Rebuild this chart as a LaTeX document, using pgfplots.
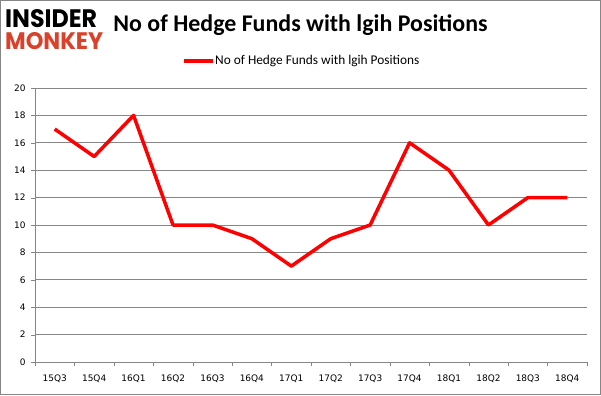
\documentclass[border=0pt]{standalone}
\usepackage{pgfplots}
\pgfplotsset{compat=1.18}
\usepackage{fontspec}
\setmainfont{DejaVu Sans}
\newfontfamily\calibri{Carlito}
\newfontfamily\logofont{Poppins}
\definecolor{logored}{HTML}{D9412A}
\definecolor{gridgray}{HTML}{868686}
\begin{document}
\begin{tikzpicture}[x=1bp,y=1bp]
\draw[gridgray,line width=1bp] (0.5,0.5) rectangle (600.5,394.5);
\node[anchor=south west,inner sep=0] at (5,367) {\resizebox{92bp}{18bp}{\logofont\bfseries INSIDER}};
\node[anchor=south west,inner sep=0] at (5,345) {\resizebox{98bp}{17bp}{\logofont\bfseries\color{logored}MONKEY}};
\node[anchor=center,inner sep=0,font=\calibri\bfseries\fontsize{24}{28}\selectfont] at (300.5,370) {No of Hedge Funds with lgih Positions};
\draw[red,line width=3.5bp] (184,334) -- (213,334);
\node[anchor=west,inner sep=0,font=\calibri\fontsize{13.4}{15}\selectfont] at (215,334) {No of Hedge Funds with lgih Positions};
\begin{axis}[
  at={(35bp,33bp)}, anchor=south west,
  width=552bp, height=274bp, scale only axis,
  xmin=-0.5, xmax=13.5, ymin=0, ymax=20,
  ytick={0,2,...,20},
  xtick={0,...,13},
  xticklabels={15Q3,15Q4,16Q1,16Q2,16Q3,16Q4,17Q1,17Q2,17Q3,17Q4,18Q1,18Q2,18Q3,18Q4},
  minor xtick={-0.5,0.5,...,13.5},
  major x tick style={draw=none},
  minor x tick style={gridgray},
  y tick style={gridgray},
  tick align=outside,
  tickwidth=4bp,
  minor tick length=4bp,
  axis x line*=bottom, axis y line*=left,
  axis line style={gridgray,-},
  ymajorgrids, grid style={gridgray,line width=0.8bp},
  tick label style={font=\fontsize{9}{10}\selectfont},
  xticklabel style={yshift=-5bp},
  yticklabel style={xshift=-2bp},
  /pgf/number format/assume math mode=true,
]
\addplot[red,line width=3.5bp,line join=round] coordinates {
(0,17)(1,15)(2,18)(3,10)(4,10)(5,9)(6,7)(7,9)(8,10)(9,16)(10,14)(11,10)(12,12)(13,12)};
\end{axis}
\end{tikzpicture}
\end{document}
